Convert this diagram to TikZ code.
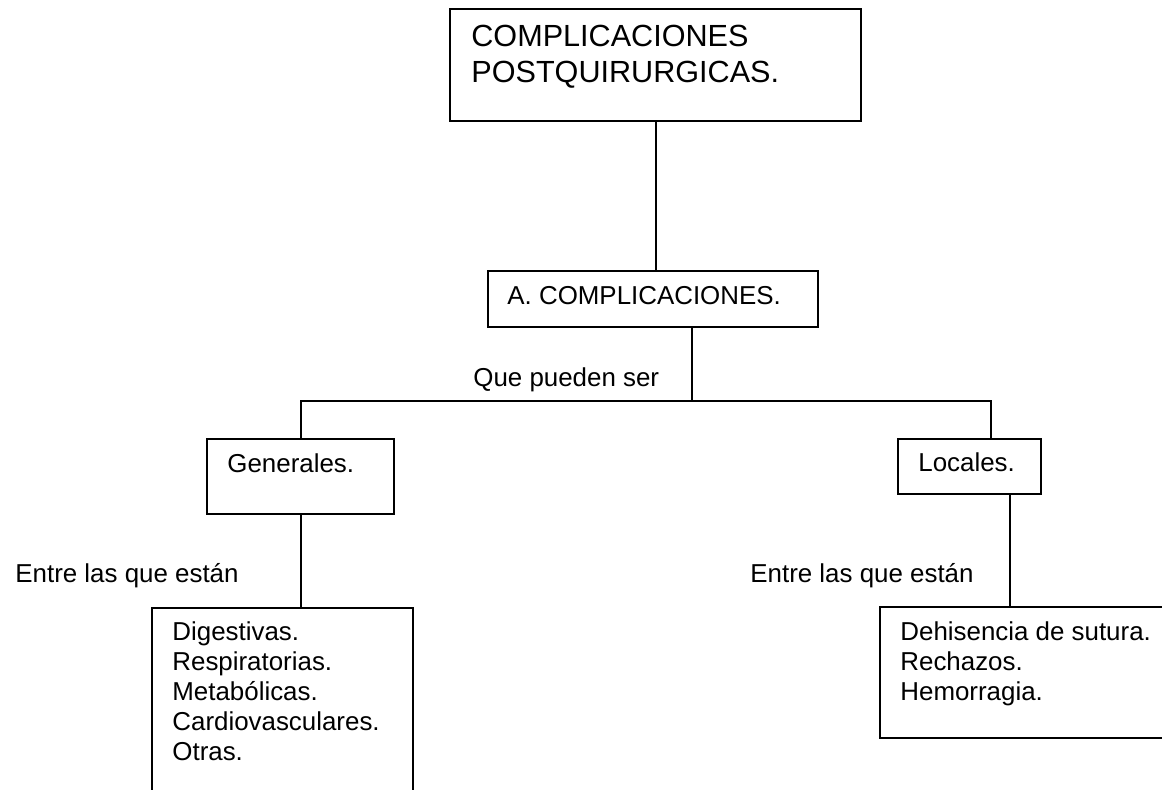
\documentclass[tikz,border=0pt]{standalone}
\usepackage{fontspec}
\setmainfont{Liberation Sans}
\begin{document}
\begin{tikzpicture}[x=0.5pt,y=-0.5pt,
  box/.style={draw, line width=1pt, inner sep=0pt, anchor=north west},
  txt/.style={anchor=base west, inner sep=0pt, font=\fontsize{12.95pt}{15pt}\selectfont},
  big/.style={anchor=base west, inner sep=0pt, font=\fontsize{15.3pt}{18pt}\selectfont},
  wire/.style={line width=1pt}]
\useasboundingbox (0,0) rectangle (1162,790);
\clip (0,0) rectangle (1162,790);
% boxes
\node[box, minimum width=205.5pt, minimum height=56pt] (top) at (449,8) {};
\node[box, minimum width=165pt, minimum height=28pt] (mid) at (487,270) {};
\node[box, minimum width=93.5pt, minimum height=37.5pt] (gen) at (206,438) {};
\node[box, minimum width=71.5pt, minimum height=27.5pt] (loc) at (897,438) {};
\node[box, minimum width=130.5pt, minimum height=106.5pt] (dl) at (151,607) {};
\node[box, minimum width=155.5pt, minimum height=65.5pt] (dr) at (879,606) {};
% texts
\node[big] (t1) at (471,47) {COMPLICACIONES};
\node[big] (t2) at (471,83) {POSTQUIRURGICAS.};
\node[txt] (tm) at (507,305) {A. COMPLICACIONES.};
\node[txt] (qp) at (473,387) {Que pueden ser};
\node[txt] (tg) at (227,473) {Generales.};
\node[txt] (tl) at (918,472) {Locales.};
\node[txt] (e1) at (15,583) {Entre las que están};
\node[txt] (e2) at (750,583) {Entre las que están};
\node[txt] (d1) at (172,640) {Digestivas.};
\node[txt] (d2) at (172,670) {Respiratorias.};
\node[txt] (d3) at (172,700) {Metabólicas.};
\node[txt] (d4) at (172,730) {Cardiovasculares.};
\node[txt] (d5) at (172,760) {Otras.};
\node[txt] (r1) at (900,640) {Dehisencia de sutura.};
\node[txt] (r2) at (900,670) {Rechazos.};
\node[txt] (r3) at (900,700) {Hemorragia.};
% connectors
\coordinate (b1) at (692,401);
\coordinate (hr) at (991,401);
\coordinate (lr) at (1010,493);
\draw[wire] (top.south) -- (top.south |- mid.north);
\draw[wire] (mid.south -| b1) -- (b1);
\draw[wire] (gen.north) -- (gen.north |- b1) -- (hr) -- (hr |- loc.north);
\draw[wire] (gen.south) -- (gen.south |- dl.north);
\draw[wire] (loc.south -| lr) -- (lr |- dr.north);
\end{tikzpicture}
\end{document}
